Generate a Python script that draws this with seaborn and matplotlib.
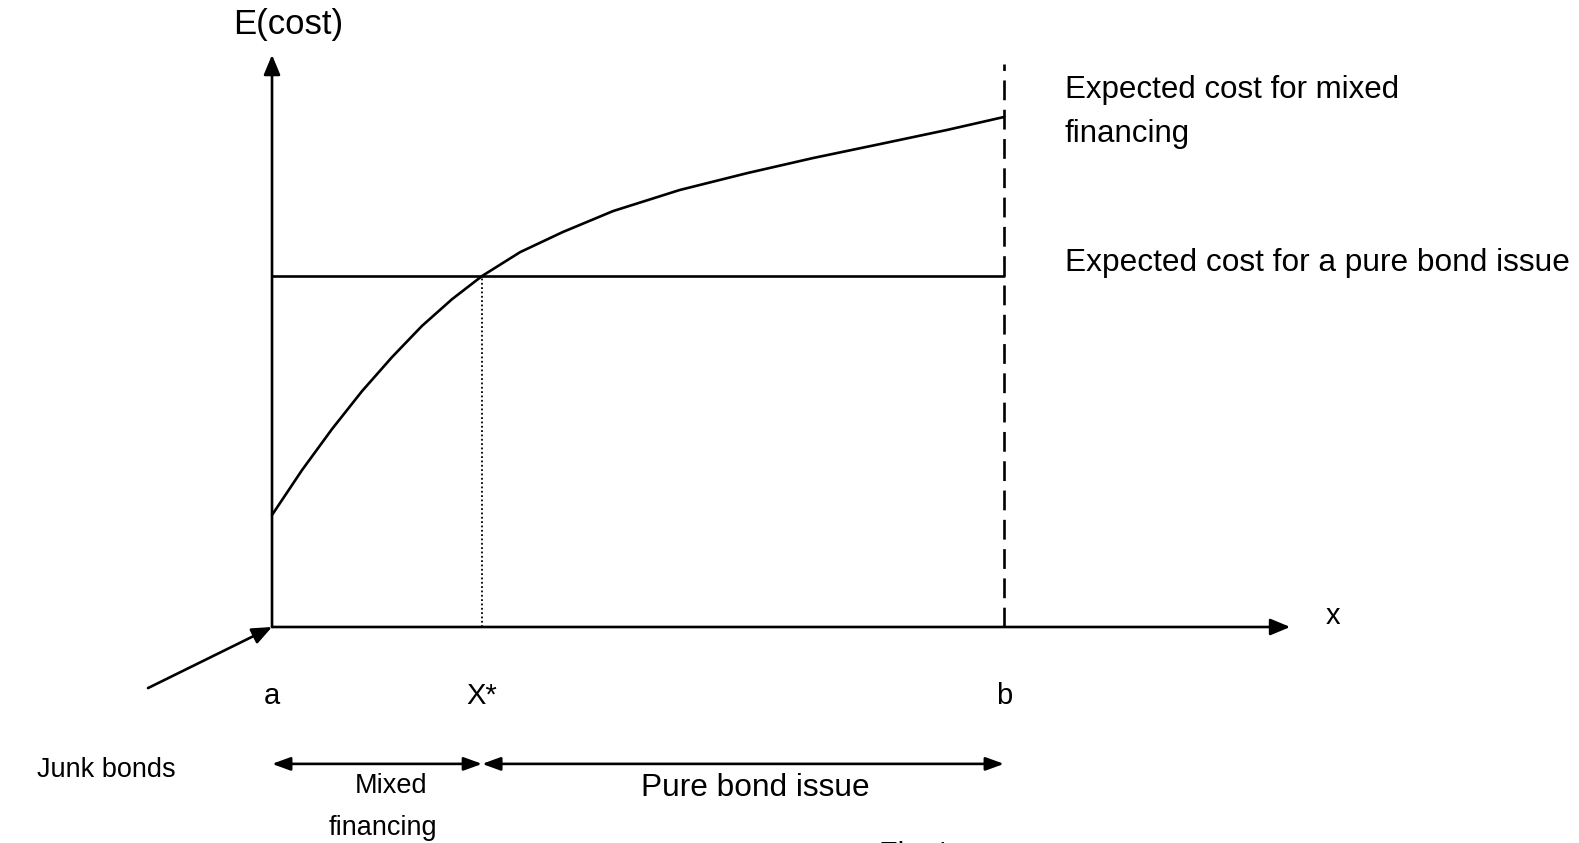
import matplotlib
matplotlib.use("Agg")
import matplotlib.pyplot as plt
import seaborn as sns
import numpy as np

sns.set_theme(style="white")
plt.rcParams['font.family'] = ['Liberation Sans', 'DejaVu Sans']
plt.rcParams['text.color'] = 'black'

# ---- data (x: a=0, b=10 ; y: pure-bond cost = 10) ----
curve_x = [0.0, 0.41, 0.82, 1.23, 1.64, 2.05, 2.46, 2.87, 3.39, 3.97, 4.66,
           5.57, 6.49, 7.39, 8.31, 9.22, 10.0]
curve_y = [3.19, 4.47, 5.64, 6.72, 7.69, 8.58, 9.34, 10.0, 10.68, 11.25, 11.85,
           12.45, 12.93, 13.36, 13.76, 14.16, 14.53]
bond_x = [0.0, 10.0]
bond_y = [10.0, 10.0]
x_a, x_star, x_b = 0.0, 2.87, 10.0
tick_labels = ["a", "X*", "b"]
label_mixed = ["Expected cost for mixed", "financing"]
label_bond = "Expected cost for a pure bond issue"

fig = plt.figure(figsize=(15.79, 8.43), dpi=100)
ax = fig.add_axes([0, 0, 1, 1])
ax.set_xlim(-3.716, 17.855)
ax.set_ylim(-6.154, 17.863)
ax.axis('off')

lw = 1.9
sns.lineplot(x=curve_x, y=curve_y, ax=ax, color='black', lw=lw, sort=False)
sns.lineplot(x=bond_x, y=bond_y, ax=ax, color='black', lw=lw, sort=False)

# vertical dashed at b
ax.plot([x_b, x_b], [0, 16.05], color='black', lw=lw, dashes=(7.5, 3.6))
# dotted at X*
ax.plot([x_star, x_star], [0, 10.0], color='black', lw=1.3, ls=(0, (1, 1.4)))

arrow = dict(arrowstyle='-|>,head_length=0.6,head_width=0.25', color='black',
             lw=lw, mutation_scale=20, shrinkA=0, shrinkB=0)
ax.annotate('', xy=(0, 16.30), xytext=(0, 0), arrowprops=arrow)
ax.annotate('', xy=(13.91, 0), xytext=(0, 0), arrowprops=arrow)
ax.annotate('', xy=(0, 0), xytext=(-1.694, -1.74), arrowprops=arrow)

darrow = dict(arrowstyle='<|-|>,head_length=0.55,head_width=0.2', color='black',
              lw=lw, mutation_scale=20, shrinkA=0, shrinkB=0)
ax.annotate('', xy=(x_star, -3.90), xytext=(x_a, -3.90), arrowprops=darrow)
ax.annotate('', xy=(x_b, -3.90), xytext=(x_star, -3.90), arrowprops=darrow)

d = -0.18
ax.text(-0.53, 17.34 + d, "E(cost)", fontsize=25, ha='left', va='center')
ax.text(10.83, 15.47 + d, label_mixed[0], fontsize=22.5, ha='left', va='center')
ax.text(10.83, 14.22 + d, label_mixed[1], fontsize=22.5, ha='left', va='center')
ax.text(10.83, 10.54 + d, label_bond, fontsize=22.8, ha='left', va='center')
ax.text(14.49, 0.48 + d, "x", fontsize=21, ha='center', va='center')
for xv, lab in zip([x_a, x_star, x_b], tick_labels):
    ax.text(xv, -1.79 + d, lab, fontsize=21, ha='center', va='center')
ax.text(-3.21, -3.90 + d, "Junk bonds", fontsize=19.5, ha='left', va='center')
ax.text(1.62, -4.36 + d, "Mixed", fontsize=19.5, ha='center', va='center')
ax.text(1.52, -5.56 + d, "financing", fontsize=19.5, ha='center', va='center')
ax.text(6.60, -4.42 + d, "Pure bond issue", fontsize=22.8, ha='center', va='center')
ax.text(8.29, -6.10, "Firm's type", fontsize=22, ha='left', va='top')

fig.savefig("out.png", dpi=100)
